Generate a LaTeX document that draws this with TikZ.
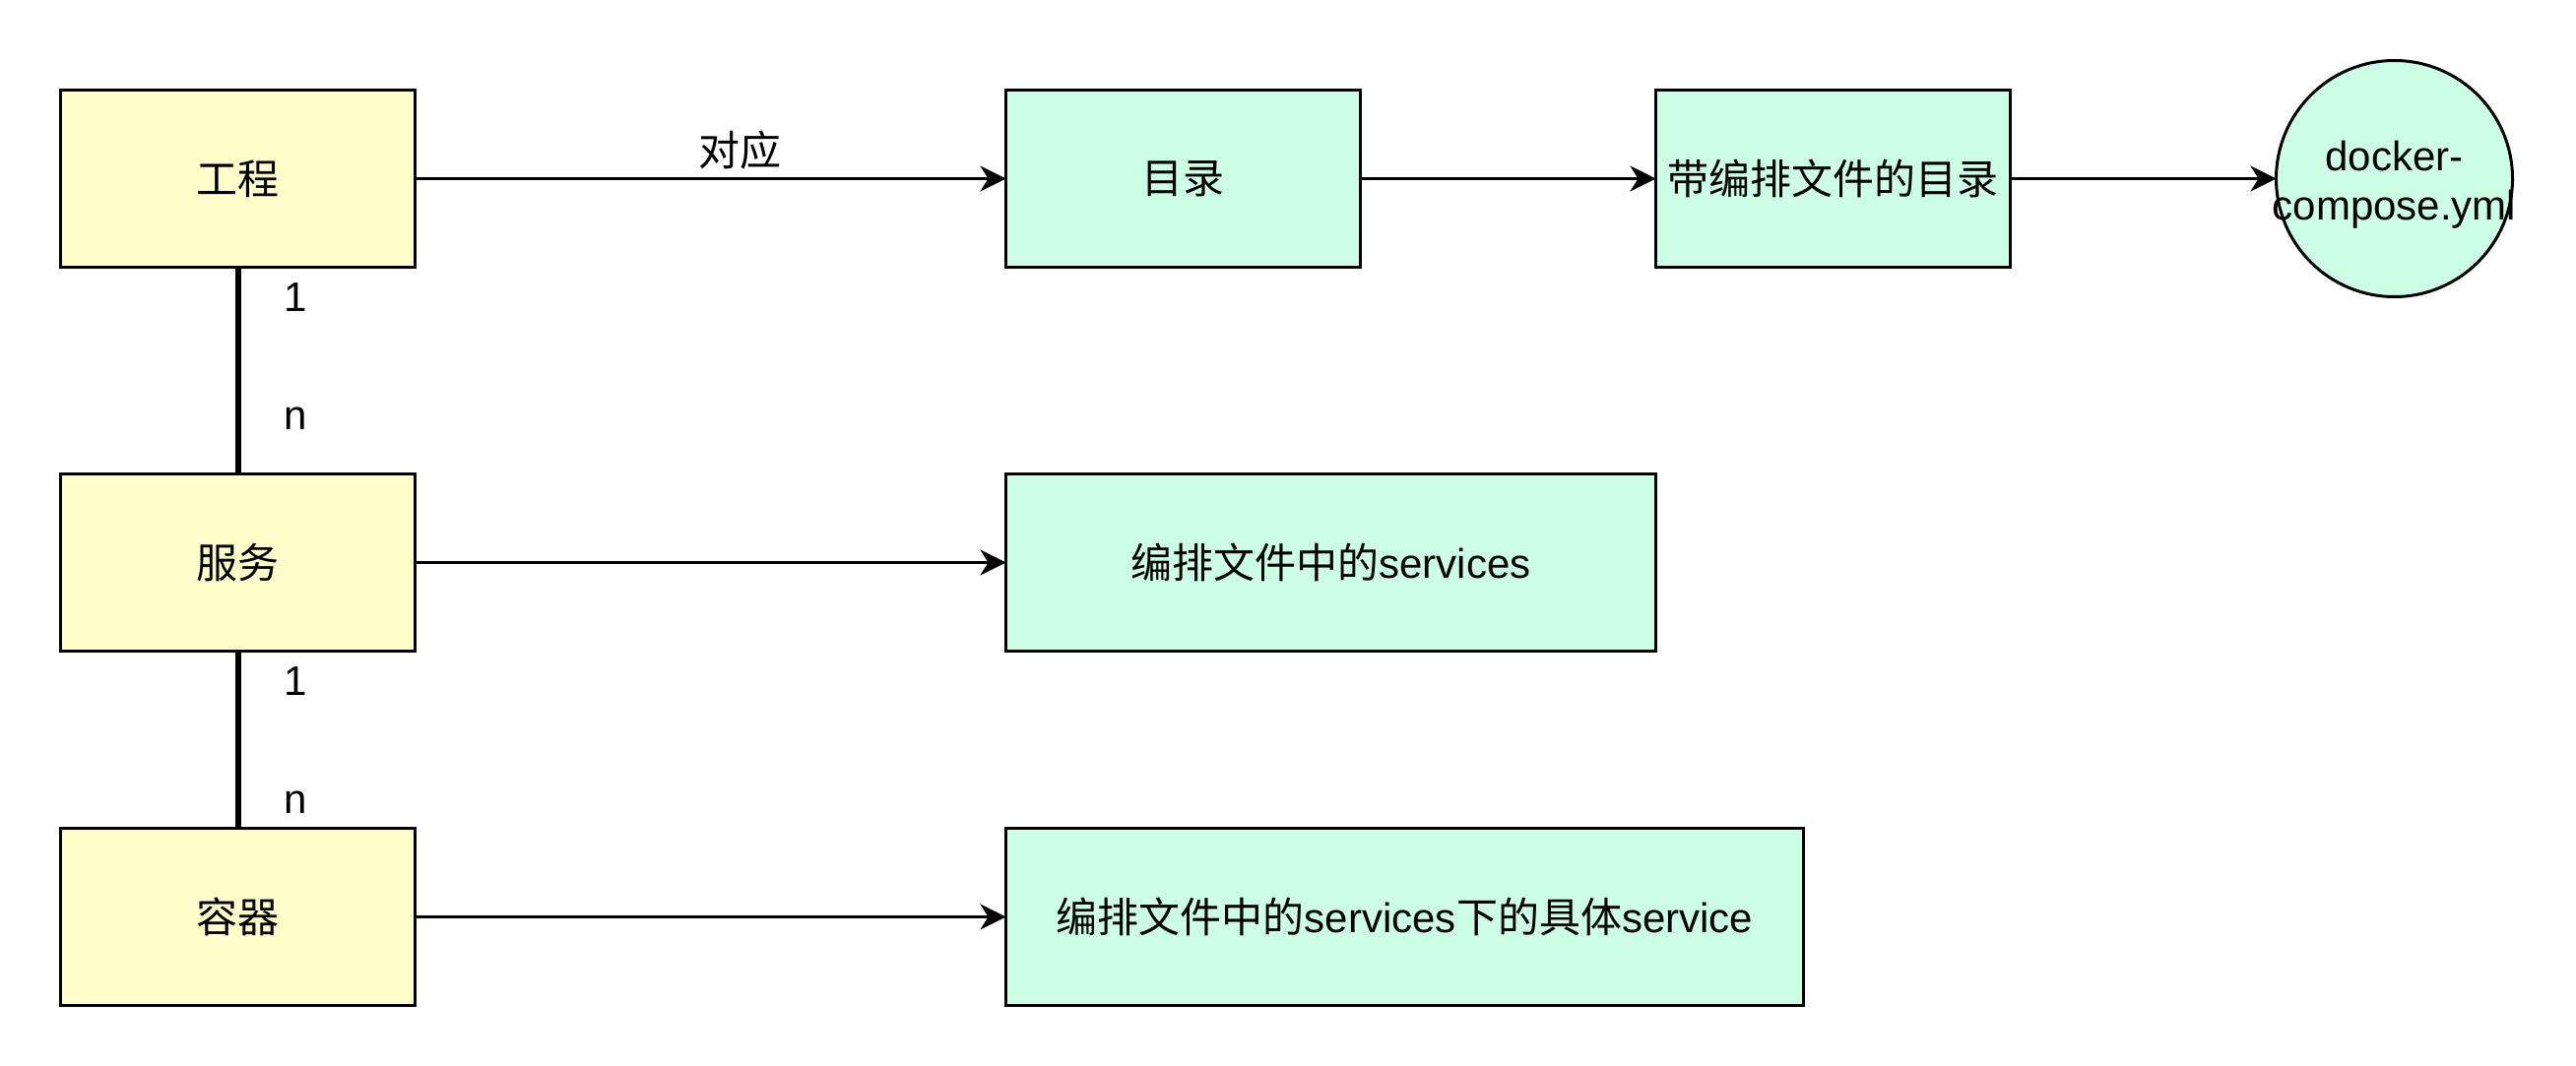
\documentclass[tikz,border=0pt]{standalone}
\usepackage{fontspec}
\setmainfont{Liberation Sans}
\newfontfamily\cjk{Noto Sans CJK SC}
\usetikzlibrary{arrows.meta,positioning}
\definecolor{entity}{HTML}{FFFFCC}
\definecolor{target}{HTML}{CCFFE6}

\begin{document}
\begin{tikzpicture}[
	x = 1pt, y = 1pt,
	> = {Stealth[length=8.7pt, width=8.7pt, inset=2.7pt]}, % arrow head style
	line width = 1pt, % line style
	font = \fontsize{14}{16.8}\selectfont,
	E/.style={rectangle, draw=black, fill=entity, minimum width=120pt, minimum height=60pt, inner sep=0pt, outer sep=0pt},  %yellow concepts
	T/.style={rectangle, draw=black, fill=target, minimum width=120pt, minimum height=60pt, inner sep=0pt, outer sep=0pt},  %green counterparts
	F/.style={circle, draw=black, fill=target, minimum size=80pt, inner sep=0pt, outer sep=0pt, align=center, text height=31pt},
	L/.style={inner sep=0pt, anchor=base, xshift=19.7pt},
	rel/.style={line width=2pt},
	]
	\useasboundingbox (-0.5,0.5) rectangle (871.5,-360.5);

	% Concepts
	% Nodes and their relative positions
	\node[E] (proj) at (80,-60) {\cjk 工程};
	\node[E] (svc) [below = 70pt of proj] {\cjk 服务};
	\node[E] (ctr) [below = 60pt of svc] {\cjk 容器};
	% Paths connecting nodes
	\path[rel] (proj) edge node[L, pos=.2143] (p1) {1} node[L, pos=.7857] (pn) {n} (svc);
	\path[rel] (svc) edge node[L, pos=.25] (s1) {1} node[L, pos=.9167] (sn) {n} (ctr);

	% Compose file items
	% Nodes and their relative positions
	\node[T] (dir) [right = 200pt of proj] {\cjk 目录};
	\node[T] (dirf) [right = 100pt of dir] {\cjk 带编排文件的目录};
	\node[F] (yml) [right = 90pt of dirf] {\makebox[0pt]{docker-}\\\makebox[0pt]{compose.yml}};
	\node[T, minimum width=220pt] (svcs) [right = 200pt of svc] {{\cjk 编排文件中的}services};
	\node[T, minimum width=270pt] (one) [right = 200pt of ctr] {{\cjk 编排文件中的}services{\cjk 下的具体}service};
	% Paths connecting nodes
	\path[->] (proj) edge node[pos=.55, yshift=9.5pt] (corr) {\cjk 对应} (dir);
	\path[->] (dir) edge (dirf);
	\path[->] (dirf) edge (yml);
	\path[->] (svc) edge (svcs);
	\path[->] (ctr) edge (one);

\end{tikzpicture}
\end{document}
